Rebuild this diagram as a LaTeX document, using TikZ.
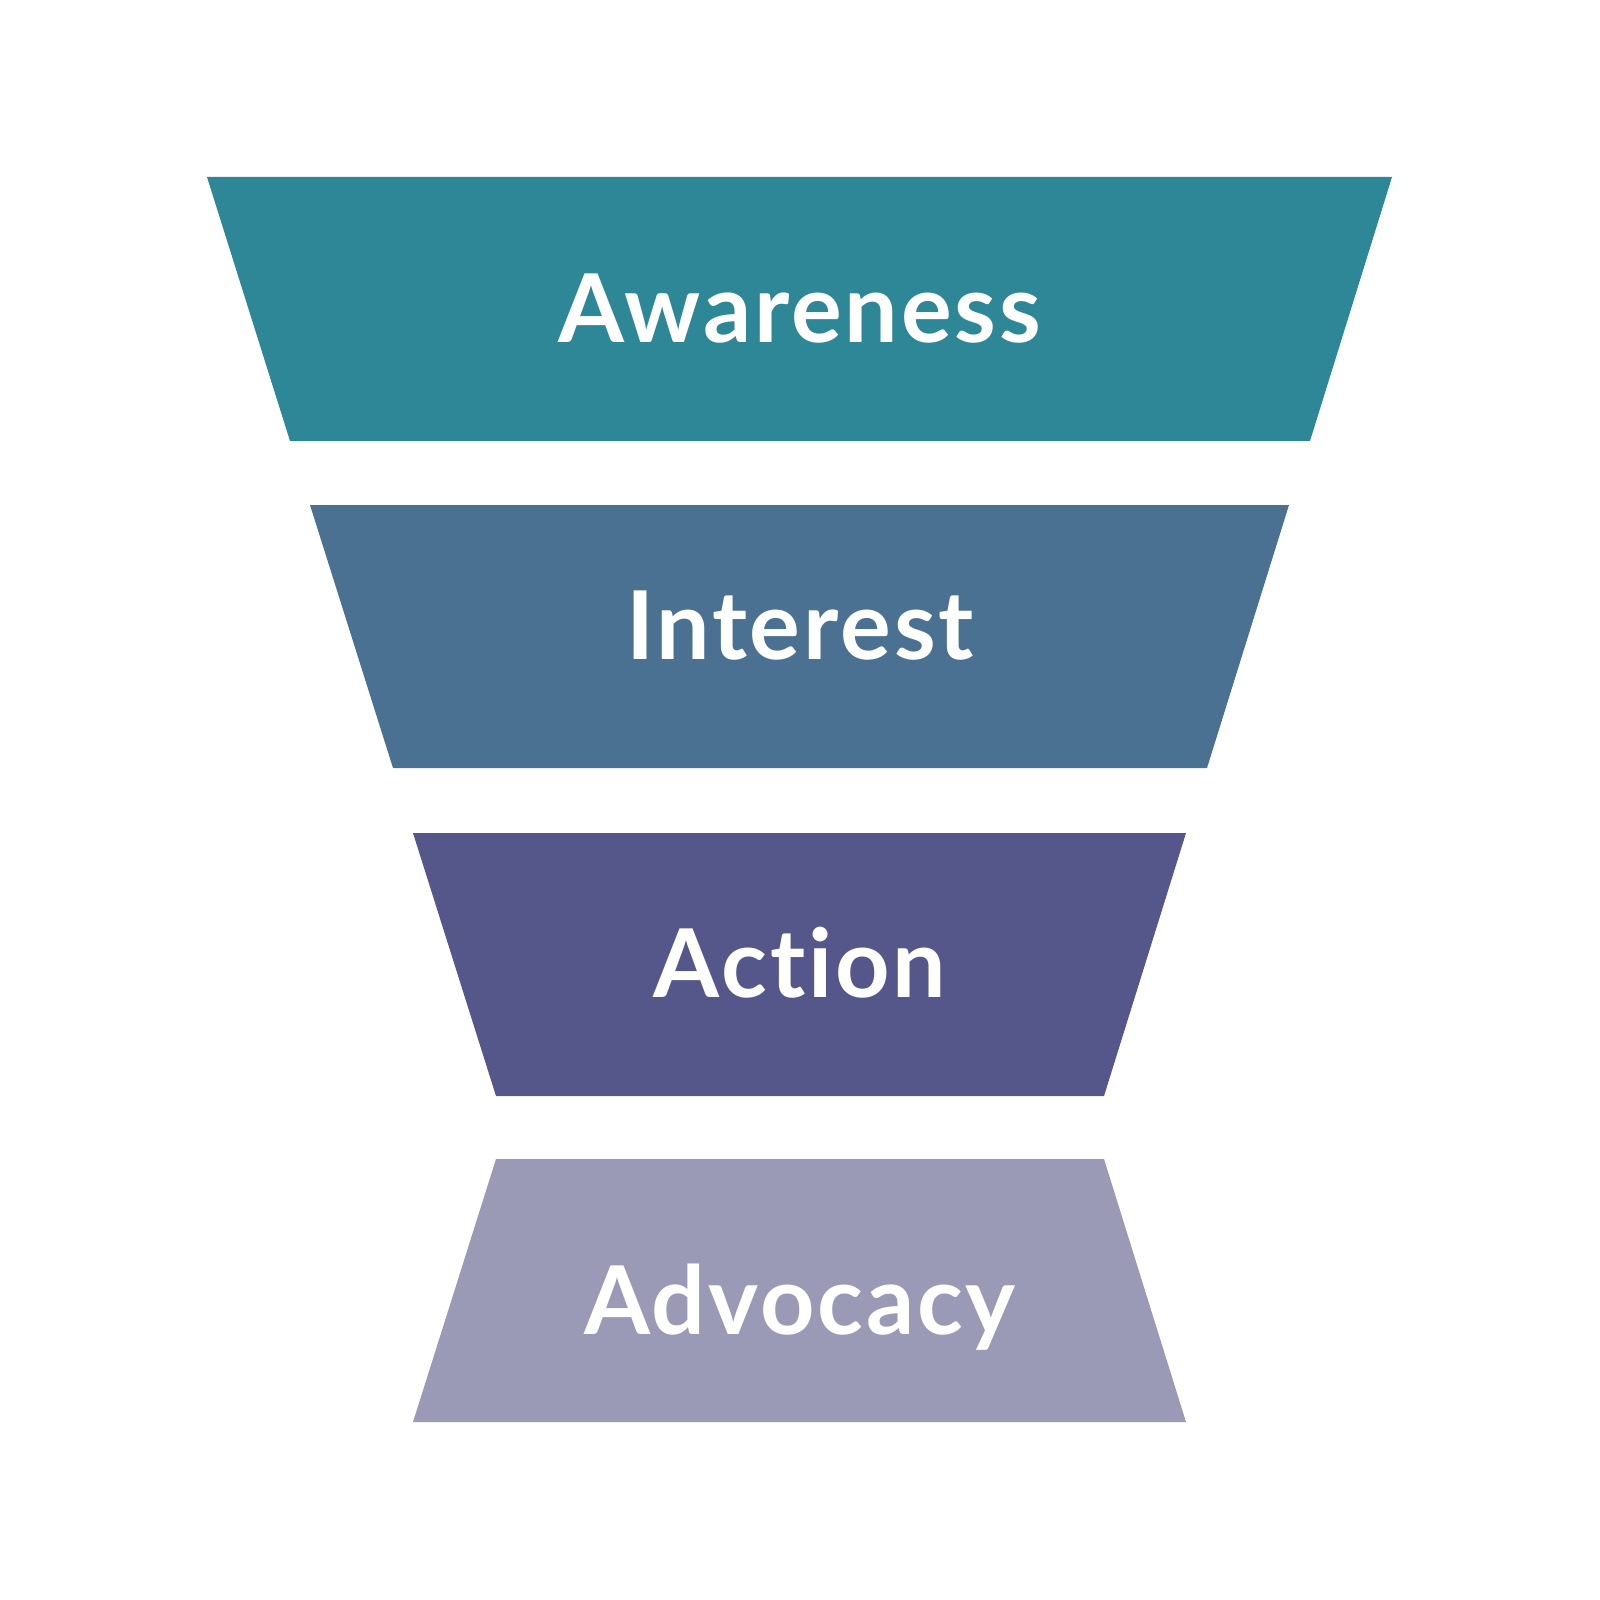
\documentclass[tikz,border=0pt]{standalone}
\usepackage{fontspec}
\setmainfont{Lato}[Ligatures=NoCommon,LetterSpace=3]
\usepackage{tikz}

\definecolor{awarecol}{HTML}{2E8797}
\definecolor{interestcol}{HTML}{4A7191}
\definecolor{actioncol}{HTML}{55578A}
\definecolor{advocol}{HTML}{9A9AB6}

\begin{document}
\begin{tikzpicture}[x=0.01cm,y=-0.01cm]
\tikzstyle{stage}=[text=white,anchor=base,inner sep=0pt,font=\bfseries\fontsize{27}{30}\selectfont];
\useasboundingbox (0,0) rectangle (1600,1600);
% funnel layers
\fill[awarecol] (207,177) -- (1392,177) -- (1310,441) -- (290,441) -- cycle;
\fill[interestcol] (310,505) -- (1289,505) -- (1207,768) -- (393,768) -- cycle;
\fill[actioncol] (413,833) -- (1186,833) -- (1104,1096) -- (496,1096) -- cycle;
\fill[advocol] (496,1159) -- (1104,1159) -- (1186,1422) -- (413,1422) -- cycle;
% labels
\node[stage] (awareness) at (800,342) {Awareness};
\node[stage] (interest) at (800,659) {Interest};
\node[stage] (action) at (800,997) {Action};
\node[stage] (advocacy) at (800,1334) {Advocacy};
\end{tikzpicture}
\end{document}
